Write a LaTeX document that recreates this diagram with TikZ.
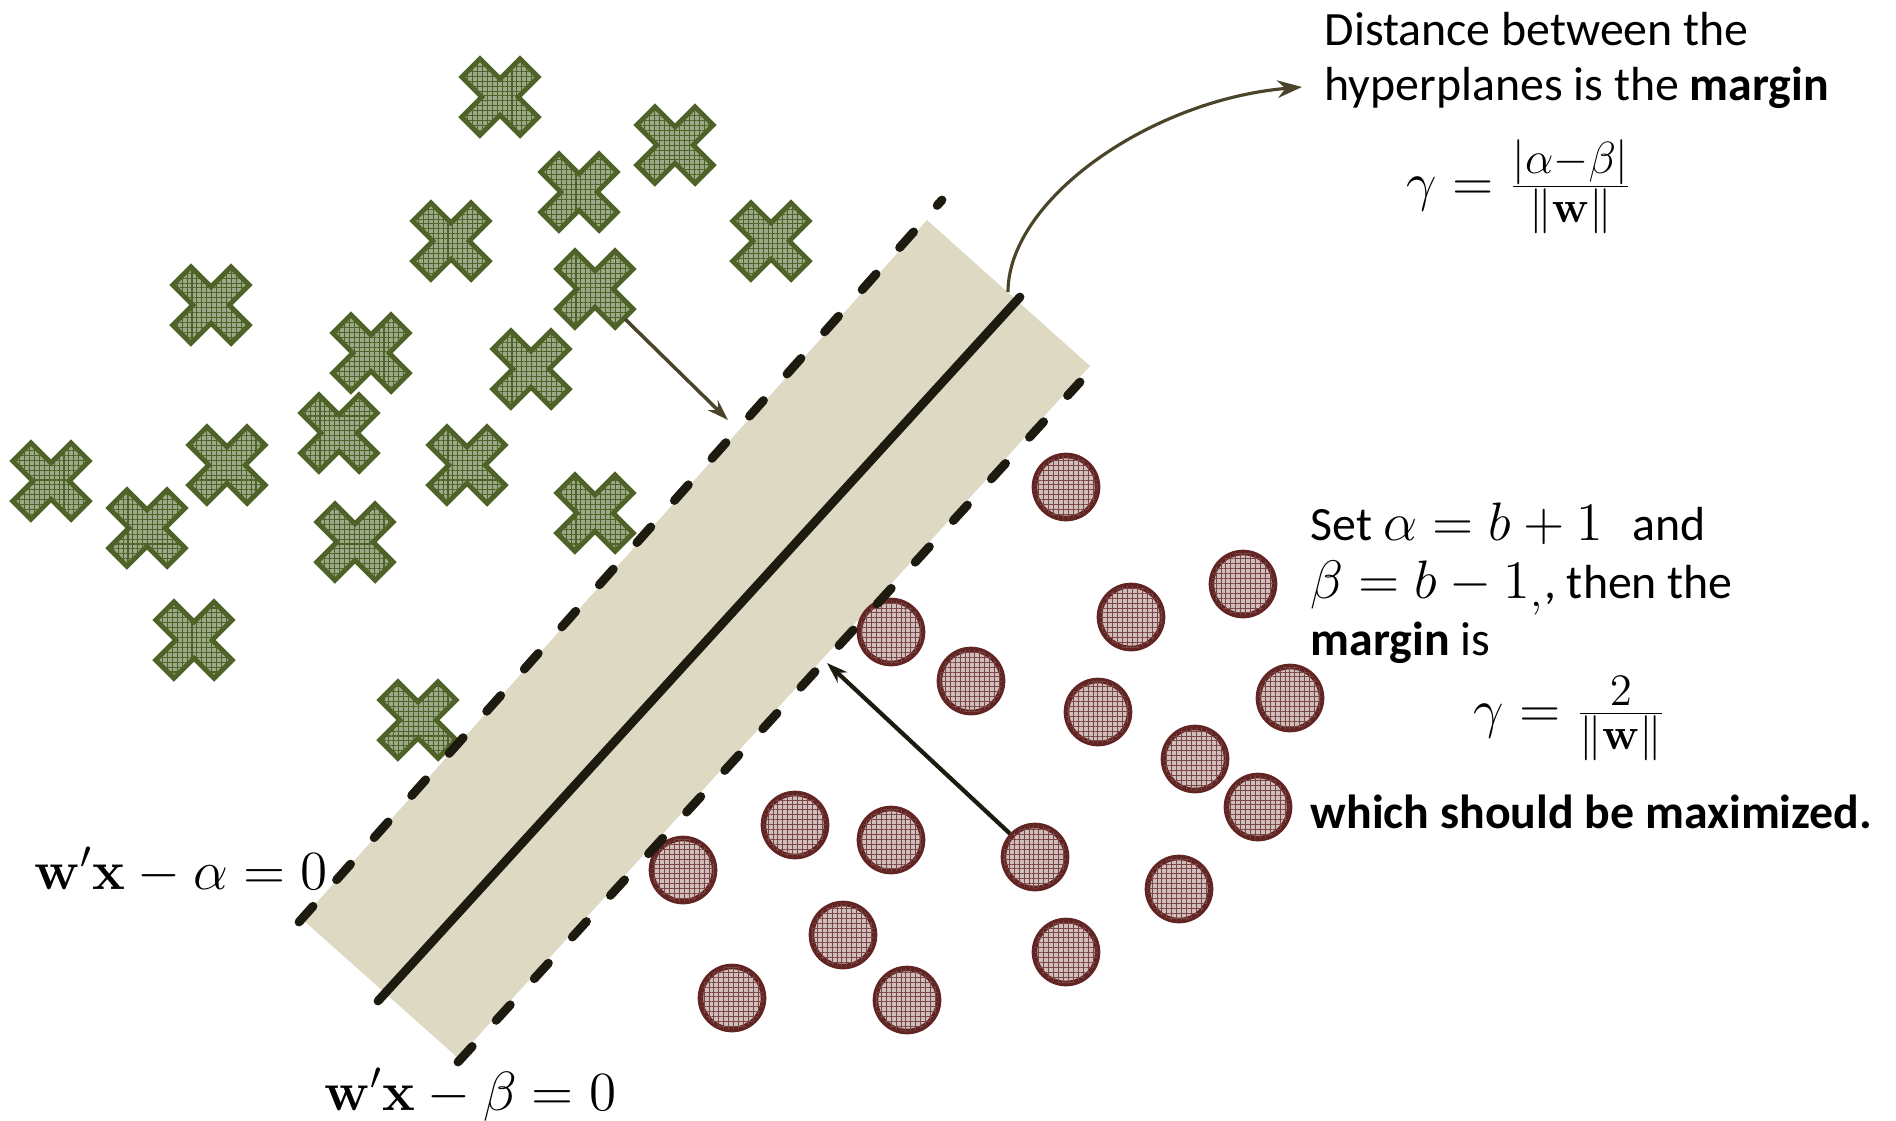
\documentclass[tikz,border=0pt]{standalone}
\usepackage{fix-cm}
\usepackage[no-math]{fontspec}
\setmainfont{Carlito}
\usetikzlibrary{arrows.meta,patterns.meta}
\DeclareMathSizes{15.4}{15.4}{12.8}{9}
\definecolor{bandfill}{HTML}{DDD9C3}
\definecolor{lineblk}{HTML}{1D1B10}
\definecolor{olivedk}{HTML}{4F6228}
\definecolor{reddk}{HTML}{632523}
\definecolor{arrbrown}{HTML}{4A452A}
\tikzset{
  crossfill/.style={draw=olivedk, line width=1.4pt, fill=olivedk!55!white, line join=miter,
    postaction={pattern={Hatch[angle=0,distance=1.4pt,line width=0.3pt]}, pattern color=olivedk}},
  dotnode/.style={circle, draw=reddk, line width=1.6pt, fill=reddk!30!white, minimum size=0.63cm, inner sep=0pt,
    postaction={pattern={Hatch[angle=0,distance=1.4pt,line width=0.25pt]}, pattern color=reddk!85!white}},
  hyper/.style={draw=lineblk, line width=2.5pt, line cap=round},
  dashhyper/.style={hyper, dash pattern=on 6pt off 10.05pt},
  ptr/.style={-{Stealth[length=6pt,width=4pt]}, line width=1pt},
  txt/.style={inner sep=0pt, anchor=base west, font=\fontsize{13.6}{16}\selectfont},
  mth/.style={inner sep=0pt, anchor=base west, font=\fontsize{15.4}{18}\selectfont},
  lbl/.style={inner sep=0pt, anchor=base west, font=\fontsize{15.7}{18}\selectfont},
  crossmark/.pic={
    \draw[crossfill, rotate=45] (-12.9,-41.2) -- (12.9,-41.2) -- (12.9,-12.9) -- (41.2,-12.9) -- (41.2,12.9) -- (12.9,12.9) -- (12.9,41.2) -- (-12.9,41.2) -- (-12.9,12.9) -- (-41.2,12.9) -- (-41.2,-12.9) -- (-12.9,-12.9) -- cycle;
    \coordinate (-c) at (0,0);
    \coordinate (-se) at (30,30);
  }
}
\begin{document}
\begin{tikzpicture}[x=0.01cm,y=-0.01cm]
\fill[white] (0,0) rectangle (1896,1120);
\useasboundingbox (0,0) rectangle (1896,1120);

% band
\coordinate (bl) at (302,919);
\coordinate (bt) at (927,220);
\coordinate (br) at (1090,366);
\coordinate (bb) at (458,1058);
\fill[bandfill] (bl) -- (bt) -- (br) -- (bb) -- cycle;

% crosses
\pic (x1) at (500,97) {crossmark};
\pic (x2) at (675,145) {crossmark};
\pic (x3) at (579,192) {crossmark};
\pic (x4) at (451,241) {crossmark};
\pic (x5) at (771,241) {crossmark};
\pic (x6) at (211,305) {crossmark};
\pic (x7) at (595,289) {crossmark};
\pic (x8) at (371,353) {crossmark};
\pic (x9) at (531,369) {crossmark};
\pic (x10) at (339,433) {crossmark};
\pic (x11) at (227,465) {crossmark};
\pic (x12) at (51,481) {crossmark};
\pic (x13) at (467,465) {crossmark};
\pic (x14) at (147,528) {crossmark};
\pic (x15) at (595,513) {crossmark};
\pic (x16) at (355,542) {crossmark};
\pic (x17) at (194,640) {crossmark};
\pic (x18) at (418,720) {crossmark};

% circles
\node[dotnode] (c1) at (1066,487) {};
\node[dotnode] (c2) at (1243,584) {};
\node[dotnode] (c3) at (1131,617) {};
\node[dotnode] (c4) at (891,632) {};
\node[dotnode] (c5) at (971,681) {};
\node[dotnode] (c6) at (1290,698) {};
\node[dotnode] (c7) at (1098,712) {};
\node[dotnode] (c8) at (1195,759) {};
\node[dotnode] (c9) at (1258,807) {};
\node[dotnode] (c10) at (795,825) {};
\node[dotnode] (c11) at (891,840) {};
\node[dotnode] (c12) at (683,870) {};
\node[dotnode] (c13) at (1035,857) {};
\node[dotnode] (c14) at (1179,889) {};
\node[dotnode] (c15) at (843,935) {};
\node[dotnode] (c16) at (1066,952) {};
\node[dotnode] (c17) at (732,998) {};
\node[dotnode] (c18) at (907,1000) {};

% hyperplanes
\coordinate (ua) at (299,922);
\coordinate (ub) at (942,200);
\coordinate (la) at (458,1062);
\coordinate (lb) at (1080,382);
\coordinate (ma) at (378,1001);
\coordinate (mb) at (1020,297);
\draw[dashhyper] (ua) -- (ub);
\draw[dashhyper] (la) -- (lb);
\draw[hyper] (ma) -- (mb);

% texts
\node[txt] (t1a) at (1324,45) {Distance between the};
\node[txt] (t1b) at (1324,100) {hyperplanes is the \textbf{margin}};
\node[mth] (f1) at (1406,200) {$\gamma = \frac{|\alpha-\beta|}{\|\mathbf{w}\|}$};
\node[txt, anchor=north west, align=left, font=\fontsize{13.6}{16.3}\selectfont] (t2a) at (1310,502.4)
  {Set {\fontsize{15.4}{18}\selectfont$\alpha=b+1$}\hspace{8.5pt}and\\
   {\fontsize{15.4}{18}\selectfont$\beta=b-1_{,}$}, then the\\
   \textbf{margin} is};
\node[mth] (f2) at (1473,727) {$\gamma = \frac{2}{\|\mathbf{w}\|}$};
\node[txt] (t2d) at (1310,828) {\textbf{which should be maximized.}};
\node[lbl] (l1) at (34,889) {$\mathbf{w}'\mathbf{x}-\alpha=0$};
\node[lbl] (l2) at (324,1110) {$\mathbf{w}'\mathbf{x}-\beta=0$};

% arrows
\coordinate (m2) at (728,420);
\draw[ptr, arrbrown] (x7-se) -- (m2);
\coordinate (m3) at (827,663);
\draw[ptr, lineblk, line width=1.2pt] (c13) -- (m3);
\coordinate (ctop) at (1008,292);
\coordinate (ctip) at (1302,87);
\draw[arrbrown, line width=0.9pt, -{Stealth[length=7pt,width=5pt]}] (ctop) .. controls (1008,200) and (1150,100) .. (ctip);
\end{tikzpicture}
\end{document}
